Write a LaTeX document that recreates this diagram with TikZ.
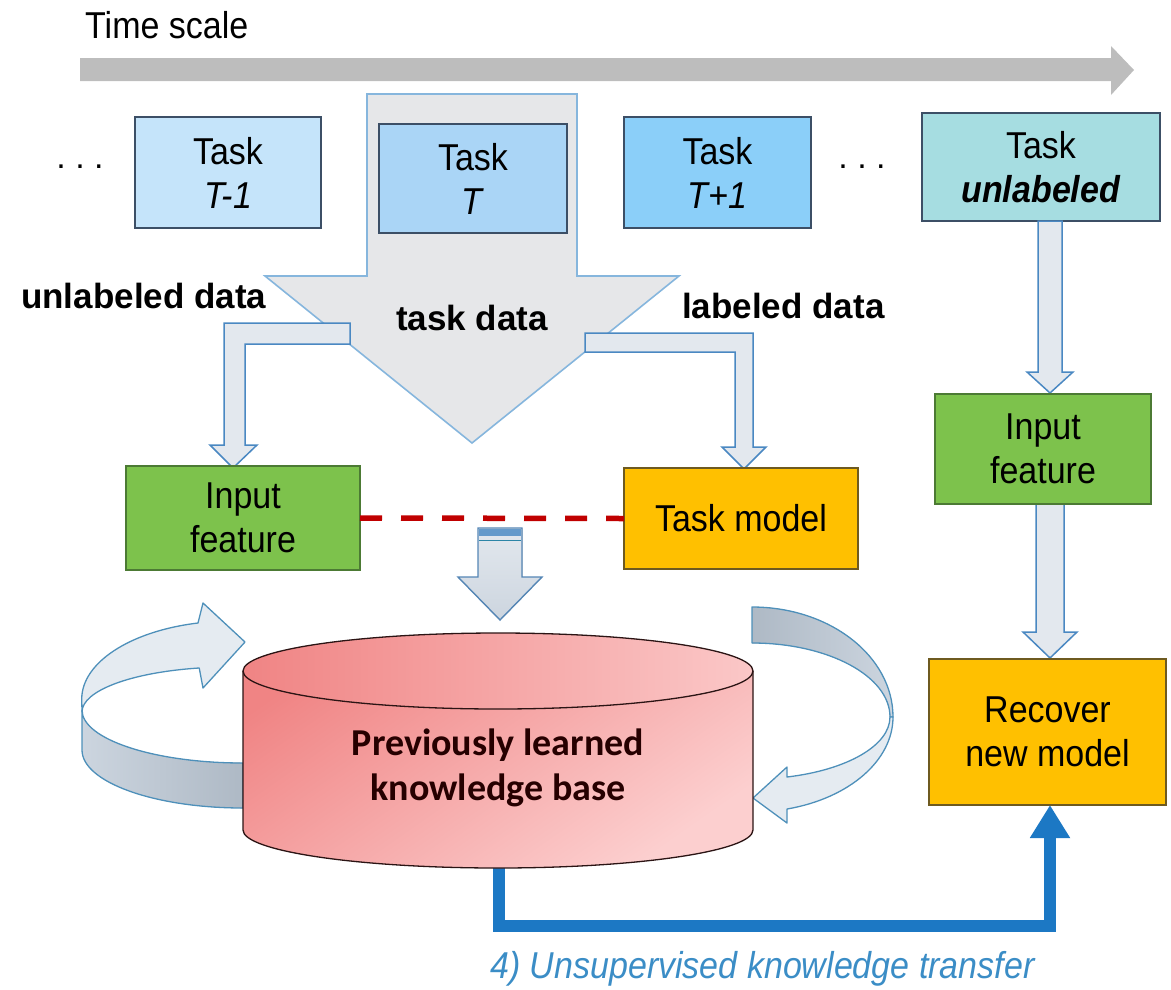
\documentclass[tikz,border=0pt]{standalone}
\usepackage{fontspec}
\setmainfont{Liberation Sans}
\newfontfamily\carl{Carlito}
\usetikzlibrary{arrows.meta}
\newcommand{\vst}[1]{\scalebox{1}[1.1]{#1}}
\definecolor{tmone}{HTML}{C5E4FA}
\definecolor{tcur}{HTML}{AAD5F6}
\definecolor{tpone}{HTML}{8BCFF9}
\definecolor{tunl}{HTML}{A6DDE1}
\definecolor{boxline}{HTML}{3C4F66}
\definecolor{grn}{HTML}{7DC24C}
\definecolor{grnline}{HTML}{4C7A34}
\definecolor{org}{HTML}{FFC000}
\definecolor{orgline}{HTML}{6E5A20}
\definecolor{bigfill}{HTML}{E6E7E9}
\definecolor{bigline}{HTML}{86B6DD}
\definecolor{arrfill}{HTML}{E3E8EE}
\definecolor{arrline}{HTML}{4A88C2}
\definecolor{tgray}{HTML}{BDBDBD}
\definecolor{kbtop}{HTML}{F08484}
\definecolor{kbbot}{HTML}{FCCFCF}
\definecolor{kbline}{HTML}{2B1414}
\definecolor{blu}{HTML}{1C78C4}
\definecolor{bltext}{HTML}{3B8DC6}
\definecolor{dred}{HTML}{C00000}
\definecolor{loopline}{HTML}{4E90BA}
\definecolor{loopback}{HTML}{E5EBF1}
\definecolor{loopdark}{HTML}{AEB9C5}
\definecolor{loopmid}{HTML}{CCD5DF}
\begin{document}
\begin{tikzpicture}[x=1pt,y=-1pt,
  box/.style={draw=boxline, line width=1.2pt, inner sep=0pt, outer sep=0pt, align=center, font=\fontsize{34}{44}\selectfont},
  bentarrow/.style={fill=arrfill, draw=arrline, line width=1.5pt, line join=miter},
  lbl/.style={font=\fontsize{35}{40}\selectfont\bfseries, inner sep=0pt},
  plain/.style={font=\fontsize{34}{44}\selectfont, inner sep=0pt},
  loopedge/.style={draw=loopline, line width=1.3pt, line join=round}]
\useasboundingbox (0,0) rectangle (1171,989);

% time arrow
\fill[tgray] (80,58) -- (1111,58) -- (1111,46) -- (1134,70) -- (1111,95) -- (1111,81) -- (80,81) -- cycle;
\node[plain, anchor=base west] (tscale) at (85,38) {\vst{Time scale}};

% big task data arrow
\filldraw[fill=bigfill, draw=bigline, line width=1.6pt, line join=miter]
  (367,94) -- (577,94) -- (577,276) -- (679,276) -- (472,443) -- (265,276) -- (367,276) -- cycle;

% task boxes
\node[plain, anchor=base] (dotsa) at (80,168) {.\ .\ .};
\node[box, fill=tmone, minimum width=186pt, minimum height=111pt] (tm1) at (228,172.5) {\vst{Task}\\\vst{\textit{T-1}}};
\node[box, fill=tcur, minimum width=188pt, minimum height=109pt] (tc) at (473,178.5) {\vst{Task}\\\vst{\textit{T}}};
\node[box, fill=tpone, minimum width=187pt, minimum height=111pt] (tp1) at (717.5,172.5) {\vst{Task}\\\vst{\textit{T+1}}};
\node[plain, anchor=base] (dotsb) at (862,168) {.\ .\ .};
\node[box, fill=tunl, minimum width=238pt, minimum height=108pt] (tu) at (1041,167) {\vst{Task}\\\vst{\textbf{\textit{unlabeled}}}};

% labels
\node[lbl, anchor=base west] (ulab) at (21,308) {unlabeled data};
\node[lbl, anchor=base] (tdata) at (472,330) {task data};
\node[lbl, anchor=base west] (llab) at (682,318) {labeled data};

% branch arrows
\filldraw[bentarrow] (350,323) -- (224,323) -- (224,445) -- (210,445) -- (233,468) -- (257,445) -- (245,445) -- (245,344) -- (350,344) -- cycle;
\filldraw[bentarrow] (585,333) -- (753,333) -- (753,447) -- (766,447) -- (744,469) -- (722,447) -- (735,447) -- (735,352) -- (585,352) -- cycle;

% right column arrows
\filldraw[bentarrow] (1038,221) -- (1062,221) -- (1062,372) -- (1073,372) -- (1050,393) -- (1027,372) -- (1038,372) -- cycle;
\filldraw[bentarrow] (1036,504) -- (1064,504) -- (1064,632) -- (1077,632) -- (1050,658) -- (1023,632) -- (1036,632) -- cycle;

% boxes middle
\node[box, draw=grnline, fill=grn, minimum width=234pt, minimum height=104pt] (inL) at (243,518) {\vst{Input}\\\vst{feature}};
\node[box, draw=orgline, fill=org, minimum width=234pt, minimum height=101pt] (tmodel) at (741,518.5) {\vst{Task model}};
\node[box, draw=grnline, fill=grn, minimum width=216pt, minimum height=110pt] (inR) at (1043,449) {\vst{Input}\\\vst{feature}};
\node[box, draw=orgline, fill=org, minimum width=237pt, minimum height=146pt] (recover) at (1047.5,732) {\vst{Recover}\\\vst{new model}};

% dashed relation
\draw[dred, line width=5.5pt, dash pattern=on 22pt off 19pt] (inL.east) -- (tmodel.west);

% small down arrow
\filldraw[top color=arrfill, bottom color=loopmid, draw=arrline!80!gray, line width=1.4pt, line join=miter]
  (478,528) -- (522,528) -- (522,577) -- (542,577) -- (500,620) -- (458,577) -- (478,577) -- cycle;
\fill[arrline!85] (479,529) rectangle (521,536);
\draw[arrline!60!teal, line width=1pt] (479,540) -- (521,540);

% blue transfer arrow
\coordinate (kbb) at (499,866);
\draw[blu, line width=12pt, line join=miter, -{Triangle[width=38pt,length=33pt]}]
  (kbb) -- (499,926) -| ([xshift=2.5pt]recover.south);
\node[plain, anchor=base west, font=\fontsize{34}{40}\selectfont\itshape, text=bltext] (ktrans) at (490,978) {\vst{4) Unsupervised knowledge transfer}};

% left loop
\filldraw[fill=loopback, loopedge] (198,623) arc[start angle=257, end angle=180, x radius=150, y radius=78]
  -- (82,712) arc[start angle=180, end angle=258, x radius=148, y radius=45]
  -- (203,688) -- (245,642) -- (203,603) -- cycle;
\filldraw[left color=loopmid, right color=loopdark, loopedge] (243,763) arc[start angle=90, end angle=180, x radius=161, y radius=53]
  -- (82,750) arc[start angle=180, end angle=90, x radius=161, y radius=58] -- cycle;

% right loop
\filldraw[left color=loopdark, right color=loopmid, loopedge] (752,607) arc[start angle=-90, end angle=0, x radius=141, y radius=110]
  -- (890,717) arc[start angle=0, end angle=-90, x radius=138, y radius=74] -- cycle;
\filldraw[fill=loopback, loopedge] (893,717) arc[start angle=0, end angle=75.6, x radius=141, y radius=95]
  -- (787,823) -- (753,798) -- (787,767) -- (787,777)
  arc[start angle=75.3, end angle=0, x radius=138, y radius=62] -- cycle;

% knowledge base cylinder
\shade[top color=kbtop, bottom color=kbbot, shading angle=35]
  (243,671) -- (243,830) arc[start angle=180, end angle=0, x radius=255, y radius=38]
  -- (753,671) arc[start angle=0, end angle=-180, x radius=255, y radius=38] -- cycle;
\shade[left color=kbtop, right color=kbbot!90!kbtop] (498,671) ellipse [x radius=255, y radius=38];
\draw[kbline, line width=1.3pt]
  (243,671) -- (243,830) arc[start angle=180, end angle=0, x radius=255, y radius=38]
  -- (753,671) arc[start angle=0, end angle=-180, x radius=255, y radius=38] -- cycle;
\draw[kbline, line width=1.3pt] (243,671) arc[start angle=180, end angle=0, x radius=255, y radius=38];
\node[font=\carl\bfseries\fontsize{38}{45}\selectfont, align=center, text=black!85!red] (kb) at (498,768) {Previously learned\\knowledge base};
\end{tikzpicture}
\end{document}
